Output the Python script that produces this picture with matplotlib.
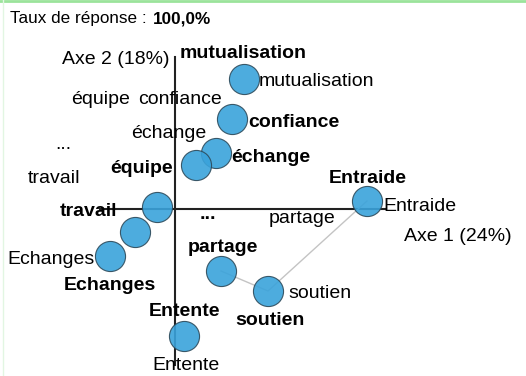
import matplotlib
matplotlib.use("Agg")
import matplotlib.pyplot as plt
from matplotlib.lines import Line2D

plt.rcParams['font.family'] = ['Liberation Sans', 'DejaVu Sans']

# factor map coordinates (Axe 1, Axe 2)
points = ["mutualisation", "confiance", "échange", "équipe", "travail", "",
          "Echanges", "partage", "soutien", "Entente", "Entraide"]
axe1 = [0.69, 0.57, 0.41, 0.21, -0.18, -0.40, -0.65, 0.46, 0.93, 0.09, 1.92]
axe2 = [1.30, 0.90, 0.56, 0.44, 0.02, -0.23, -0.47, -0.62, -0.82, -1.27, 0.08]

# bold labels (modalities)
bold_labels = ["mutualisation", "confiance", "échange", "équipe", "travail", "...",
               "Echanges", "partage", "soutien", "Entente", "Entraide"]
bold_x = [0.68, 1.19, 0.96, -0.33, -0.86, 0.33, -0.65, 0.48, 0.95, 0.10, 1.93]
bold_y = [1.55, 0.87, 0.52, 0.41, -0.02, -0.05, -0.76, -0.39, -1.11, -1.03, 0.31]

# plain labels
plain_labels = ["mutualisation", "équipe", "confiance", "échange", "...", "travail",
                "partage", "Entraide", "soutien", "Echanges", "Entente"]
plain_x = [1.41, -0.74, 0.05, -0.06, -1.12, -1.21, 1.27, 2.45, 1.45, -1.24, 0.11]
plain_y = [1.27, 1.09, 1.09, 0.76, 0.65, 0.31, -0.09, 0.03, -0.85, -0.51, -1.57]

# links between Entraide -> soutien -> partage
link = ["Entraide", "soutien", "partage"]

fig = plt.figure(figsize=(5.26, 3.76), dpi=100)
ax = fig.add_axes([0, 0, 1, 1])
ax.set_xlim(-1.75, 3.51)
ax.set_ylim(-1.67, 2.09)
ax.axis("off")

# axes
ax.plot([-0.75, 2.10], [0, 0], color="#222222", lw=1.5, zorder=1)
ax.plot([0, 0], [-1.56, 1.52], color="#222222", lw=1.5, zorder=1)

lx = [axe1[points.index(n)] for n in link]
ly = [axe2[points.index(n)] for n in link]
ax.plot(lx, ly, color="#c4c4c4", lw=1, zorder=2)

ax.scatter(axe1, axe2, s=470, color="#3aa3db", edgecolor="#2d4a5a",
           linewidth=0.8, alpha=0.9, zorder=3)

for t, x, y in zip(bold_labels, bold_x, bold_y):
    ax.text(x, y, t, fontsize=14, fontweight="bold", ha="center", va="center", zorder=4)
for t, x, y in zip(plain_labels, plain_x, plain_y):
    ax.text(x, y, t, fontsize=14, ha="center", va="center", zorder=4)

ax.text(-0.59, 1.50, "Axe 2 (18%)", fontsize=14, ha="center", va="center")
ax.text(2.83, -0.27, "Axe 1 (24%)", fontsize=14, ha="center", va="center")

fig.text(10 / 526, 1 - 19 / 376, "Taux de réponse : ", fontsize=12.3, ha="left", va="center")
fig.text(153 / 526, 1 - 19 / 376, "100,0%", fontsize=12.3, fontweight="bold",
         ha="left", va="center")

fig.add_artist(Line2D([0, 1], [1 - 1 / 376, 1 - 1 / 376], color="#9be39b", lw=2))
fig.add_artist(Line2D([3 / 526, 3 / 526], [0, 1], color="#e2f6e2", lw=1))

fig.savefig("out.png", dpi=100)
